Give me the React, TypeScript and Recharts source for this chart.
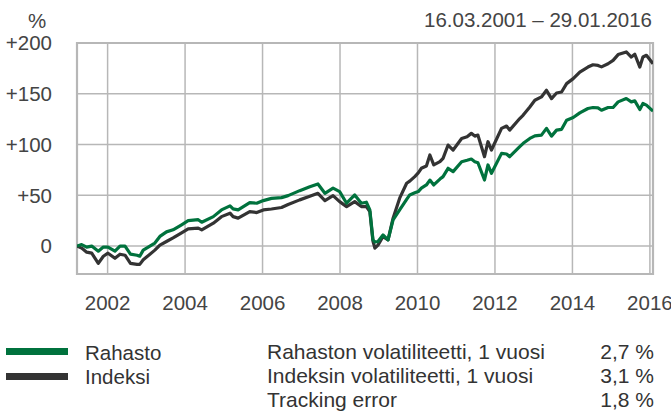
import React from "react";
import { LineChart, Line, XAxis, YAxis, CartesianGrid, ReferenceArea } from "recharts";

const dates = [
  2001.21, 2001.33, 2001.46, 2001.59, 2001.76, 2001.89, 2002.01, 2002.19, 2002.32, 2002.45,
  2002.59, 2002.76, 2002.83, 2002.92, 2003.22, 2003.35, 2003.52, 2003.69, 2003.91, 2004.08,
  2004.34, 2004.43, 2004.73, 2004.94, 2005.16, 2005.24, 2005.37, 2005.67, 2005.85, 2006.02,
  2006.23, 2006.49, 2006.66, 2006.96, 2007.22, 2007.43, 2007.61, 2007.82, 2007.99, 2008.17,
  2008.38, 2008.55, 2008.68, 2008.77, 2008.85, 2008.9, 2008.98, 2009.11, 2009.24, 2009.37,
  2009.54, 2009.72, 2009.8, 2009.93, 2010.02, 2010.1, 2010.23, 2010.32, 2010.42, 2010.58,
  2010.66, 2010.79, 2010.92, 2011.14, 2011.28, 2011.39, 2011.48, 2011.56, 2011.73, 2011.82,
  2011.91, 2012.17, 2012.3, 2012.38, 2012.64, 2012.73, 2012.9, 2013.03, 2013.2, 2013.33,
  2013.46, 2013.59, 2013.72, 2013.85, 2014.02, 2014.19, 2014.4, 2014.53, 2014.66, 2014.75,
  2014.92, 2015.05, 2015.18, 2015.39, 2015.52, 2015.61, 2015.74, 2015.82, 2015.91, 2016.08,
];

const rahasto = [
  0, 1.5, -1, 0, -5, -1, -1, -5, 0, 0,
  -8, -9, -10, -4, 3, 9.5, 14, 16, 21, 25,
  26, 23.5, 29, 35.6, 39.6, 36.6, 35.6, 42.8, 42.2, 44.8,
  47, 47.7, 49.7, 54.6, 58.5, 61.2, 52, 57, 53.6, 42.2,
  50.4, 42.2, 43.2, 35.7, 6.2, 4, 4.5, 11, 6.2, 25.8,
  35.6, 46, 50.4, 52.5, 53.7, 57, 60.2, 65, 60.2, 66,
  68.4, 76.6, 73.3, 83.1, 84.5, 85.7, 83.1, 82.1, 65.1, 79.9,
  71.7, 91.3, 90.7, 88, 98, 101.2, 106, 108.5, 109.3, 115.9,
  108.3, 114.2, 115, 124, 126.6, 131.2, 135.5, 136.5, 136.1, 133.8,
  136.5, 136.5, 142, 145.3, 142, 143, 134.5, 140.4, 138.8, 132.9,
];

const indeksi = [
  0, -2, -6, -7, -17, -10, -7, -12, -8, -9,
  -17, -18, -18, -13.5, -4, 1, 4.5, 8, 13, 17,
  17.7, 16, 22.6, 29, 32.4, 29, 27.5, 34, 33, 35.6,
  36.5, 38, 41, 45.5, 49, 52, 44.8, 49.7, 43.8, 38.9,
  43.8, 38.9, 38.9, 34, 5, -2, 1, 9.4, 6.2, 27.5,
  47.2, 61.9, 64, 68.4, 72, 76.6, 78.9, 89.7, 79.9, 83.1,
  86.4, 99.5, 94.6, 106, 107.7, 111, 108.3, 109.3, 88, 102.8,
  94.6, 115.9, 118.2, 114.2, 125.6, 129, 137, 143.6, 146.9, 153.4,
  145.2, 150.8, 151.7, 160, 164.9, 171.4, 176.3, 178.6, 177.9, 176.5,
  179.6, 182.9, 188.6, 191.2, 186.2, 188.9, 176.3, 186.2, 187.9, 179.6,
];

const xTicks = [2002, 2004, 2006, 2008, 2010, 2012, 2014, 2016];
const yTicks = [0, 50, 100, 150, 200];
const xDomain = [2001.21, 2016.08];
const yDomain = [-27.5, 200];

const seriesNames = ["Rahasto", "Indeksi"];
const statLabels = [
  "Rahaston volatiliteetti, 1 vuosi",
  "Indeksin volatiliteetti, 1 vuosi",
  "Tracking error",
];
const statValues = ["2,7 %", "3,1 %", "1,8 %"];
const dateRange = "16.03.2001 \u2013 29.01.2016";
const unitLabel = "%";

const GREEN = "#00723d";
const DARK = "#333333";
const GRID = "#b7b7b7";
const TEXT = "#444444";
const FONT = "'Liberation Sans', Arial, Helvetica, sans-serif";

const data = dates.map((t, i) => ({ t, rahasto: rahasto[i], indeksi: indeksi[i] }));

const textStyle: React.CSSProperties = {
  position: "absolute",
  fontFamily: FONT,
  fontSize: 20.5,
  color: TEXT,
  whiteSpace: "nowrap",
  lineHeight: "normal",
};

export default function App() {
  const rowTops = [340.5, 364.5, 388.5];
  return (
    <div style={{ position: "absolute", left: 0, top: 0, width: 671, height: 414, background: "#fff", overflow: "hidden" }}>
      <LineChart
        width={671}
        height={414}
        data={data}
        margin={{ top: 43, right: 18, bottom: 110, left: 0 }}
      >
        <CartesianGrid stroke={GRID} strokeWidth={1.5} />
        <ReferenceArea
          x1={xDomain[0]}
          x2={xDomain[1]}
          y1={yDomain[0]}
          y2={yDomain[1]}
          fill="none"
          fillOpacity={0}
          stroke={GRID}
          strokeWidth={2.2}
        />
        <XAxis
          dataKey="t"
          type="number"
          domain={xDomain}
          ticks={xTicks}
          allowDataOverflow
          axisLine={false}
          tickLine={false}
          tickSize={0}
          tickMargin={21}
          height={30}
          interval={0}
          tick={{ fill: TEXT, fontSize: 20.5, fontFamily: FONT }}
        />
        <YAxis
          type="number"
          domain={yDomain}
          ticks={yTicks}
          allowDataOverflow
          axisLine={false}
          tickLine={false}
          tickSize={0}
          tickMargin={25}
          width={77}
          interval={0}
          tickFormatter={(v: number) => (v > 0 ? "+" + v : String(v))}
          tick={{ fill: TEXT, fontSize: 20.5, fontFamily: FONT }}
        />
        <Line
          type="linear"
          dataKey="indeksi"
          stroke={DARK}
          strokeWidth={3.2}
          dot={false}
          isAnimationActive={false}
          strokeLinejoin="round"
        />
        <Line
          type="linear"
          dataKey="rahasto"
          stroke={GREEN}
          strokeWidth={3.2}
          dot={false}
          isAnimationActive={false}
          strokeLinejoin="round"
        />
      </LineChart>

      <div style={{ ...textStyle, left: 28, top: 8.5 }}>{unitLabel}</div>
      <div style={{ ...textStyle, left: 0, width: 652, top: 7.5, textAlign: "right" }}>{dateRange}</div>

      {seriesNames.map((name, i) => (
        <React.Fragment key={name}>
          <div
            style={{
              position: "absolute",
              left: 6,
              top: (i === 0 ? 347.5 : 372.5),
              width: 62,
              height: 7,
              background: i === 0 ? GREEN : DARK,
            }}
          />
          <div style={{ ...textStyle, left: 85, top: rowTops[i], color: DARK }}>{name}</div>
        </React.Fragment>
      ))}

      {statLabels.map((label, i) => (
        <React.Fragment key={label}>
          <div style={{ ...textStyle, fontSize: 21, left: 267, top: rowTops[i] - 0.5, color: DARK }}>{label}</div>
          <div style={{ ...textStyle, fontSize: 21, left: 0, width: 654, top: rowTops[i] - 0.5, textAlign: "right", color: DARK }}>
            {statValues[i]}
          </div>
        </React.Fragment>
      ))}
    </div>
  );
}
